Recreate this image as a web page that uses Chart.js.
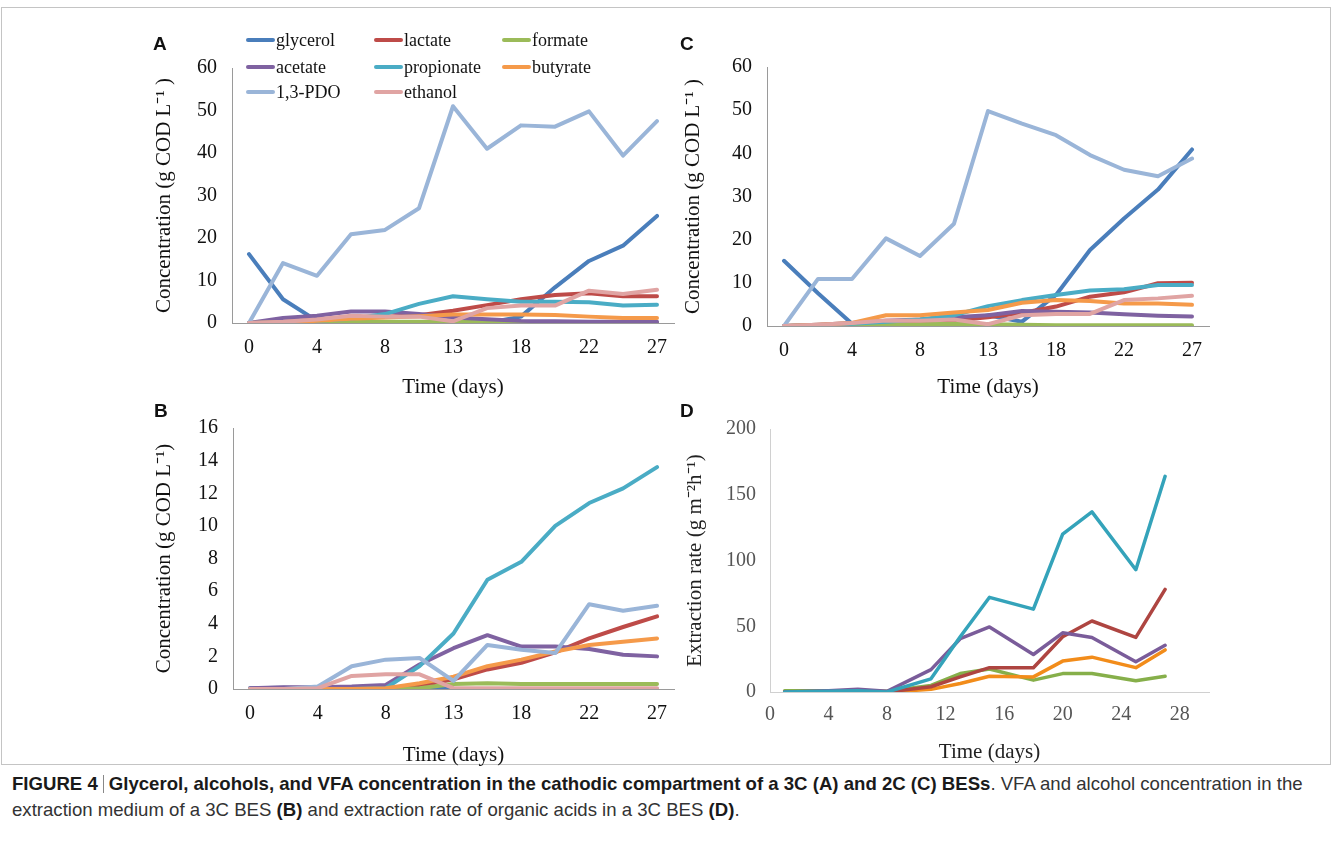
<!DOCTYPE html>
<html>
<head>
<meta charset="utf-8">
<script src="https://cdn.jsdelivr.net/npm/chart.js@4.4.1/dist/chart.umd.min.js"></script>
<style>
  body { margin: 0; background: #fff; width: 1342px; height: 851px; position: relative; overflow: hidden; }
  .frame { position: absolute; left: 1px; top: 7px; width: 1330px; height: 758px; border: 1px solid #c4c4c4; box-sizing: border-box; }
  .panel { position: absolute; }
  .letter { position: absolute; font: bold 19px "Liberation Sans", Arial, sans-serif; color: #111; }
  #legendA { position: absolute; left: 0; top: 0; font: 18px "Liberation Serif", serif; color: #111; }
  .lg { position: absolute; display: flex; align-items: center; white-space: nowrap; height: 22px; }
  .lg span.sw { display: inline-block; width: 29px; height: 4px; border-radius: 2px; margin-right: 1px; }
  .caption { position: absolute; left: 12px; top: 771px; font: 18.6px "Liberation Sans", Arial, sans-serif; color: #333; line-height: 26px; white-space: nowrap; }
  .caption b { color: #1a1a1a; }
  .bar { display: inline-block; width: 1px; height: 18px; background: #888; vertical-align: -3px; margin: 0 5px; }
</style>
</head>
<body>
<div class="frame"></div>

<canvas id="chartA" class="panel" style="left:140px;top:20px" width="560" height="380"></canvas>
<canvas id="chartC" class="panel" style="left:660px;top:20px" width="580" height="380"></canvas>
<canvas id="chartB" class="panel" style="left:140px;top:390px" width="560" height="380"></canvas>
<canvas id="chartD" class="panel" style="left:660px;top:390px" width="580" height="380"></canvas>

<div class="letter" style="left:153px;top:33px">A</div>
<div class="letter" style="left:680px;top:33px">C</div>
<div class="letter" style="left:154px;top:400px">B</div>
<div class="letter" style="left:680px;top:400px">D</div>
<div id="legendA"></div>

<div class="caption"><b>FIGURE 4</b><span class="bar"></span><b>Glycerol, alcohols, and VFA concentration in the cathodic compartment of a 3C (A) and 2C (C) BESs</b>. VFA and alcohol concentration in the<br>extraction medium of a 3C BES <b>(B)</b> and extraction rate of organic acids in a 3C BES <b>(D)</b>.</div>

<script>
// sampling days (panels A, B, C) - every other one is labelled on the axis
const days = ["0", "2", "4", "6", "8", "11", "13", "16", "18", "20", "22", "25", "27"];
// sampling days for panel D (numeric axis) and its tick labels
const daysD = [1, 4, 6, 8, 11, 13, 15, 18, 20, 22, 25, 27];
const ticksD = [0, 4, 8, 12, 16, 20, 24, 28];

const seriesNames = ["glycerol", "lactate", "formate", "acetate", "propionate", "butyrate", "1,3-PDO", "ethanol"];
const seriesColors = ["#4A7EBB", "#BE4B48", "#9BBB59", "#7F62A1", "#4AACC5", "#F59A4A", "#9AB5D8", "#E0A4A3"];

// A: cathodic compartment, 3C BES (g COD/L)
const glycerolA   = [16.2, 5.6, 0.5, 0, 0, 0, 0, 0, 1.5, 8.4, 14.6, 18.2, 25.2];
const lactateA    = [0, 0.3, 0.8, 1.3, 1.5, 1.8, 2.9, 4.2, 5.6, 6.6, 7.0, 6.3, 6.3];
const formateA    = [0, 0.1, 0.2, 0.3, 0.3, 0.3, 0.3, 0.2, 0.1, 0.1, 0.1, 0.1, 0.1];
const acetateA    = [0, 1.2, 1.7, 2.7, 2.7, 2.1, 1.3, 0.9, 0.5, 0.4, 0.3, 0.3, 0.3];
const propionateA = [0, 0.2, 0.5, 1.0, 2.1, 4.5, 6.3, 5.6, 5.0, 5.0, 4.9, 4.1, 4.3];
const butyrateA   = [0, 0.2, 0.5, 1.0, 1.3, 1.6, 2.0, 2.0, 2.0, 1.9, 1.5, 1.2, 1.2];
const pdoA        = [0, 14.1, 11.1, 20.9, 21.9, 27.0, 51.0, 41.0, 46.5, 46.2, 49.8, 39.4, 47.5];
const ethanolA    = [0, 0.3, 0.8, 1.7, 1.5, 1.5, 0.4, 3.5, 4.1, 4.1, 7.6, 6.8, 7.8];

// B: extraction medium, 3C BES (g COD/L)
const glycerolB   = [0.05, 0.08, 0.05, 0.05, 0.05, 0.05, 0, 0, 0, 0, 0, 0, 0];
const lactateB    = [0, 0, 0, 0, 0, 0.2, 0.6, 1.2, 1.6, 2.25, 3.1, 3.8, 4.45];
const formateB    = [0, 0, 0, 0, 0, 0.05, 0.3, 0.35, 0.3, 0.3, 0.3, 0.3, 0.3];
const acetateB    = [0.05, 0.1, 0.1, 0.15, 0.25, 1.5, 2.5, 3.3, 2.6, 2.6, 2.45, 2.1, 2.0];
const propionateB = [0, 0, 0, 0, 0.05, 1.4, 3.4, 6.7, 7.8, 10.0, 11.4, 12.3, 13.6];
const butyrateB   = [0, 0, 0, 0, 0.05, 0.35, 0.75, 1.4, 1.8, 2.3, 2.7, 2.9, 3.1];
const pdoB        = [0, 0, 0.15, 1.4, 1.8, 1.9, 0.5, 2.7, 2.4, 2.2, 5.2, 4.8, 5.1];
const ethanolB    = [0, 0, 0.05, 0.8, 0.9, 0.9, 0.05, 0.05, 0.05, 0.05, 0.05, 0.05, 0.05];

// C: cathodic compartment, 2C BES (g COD/L)
const glycerolC   = [15.1, 7.6, 0.5, 0.3, 0.5, 0.8, 2.5, 1.0, 7.2, 17.6, 24.9, 31.6, 40.9];
const lactateC    = [0, 0.2, 0.5, 0.8, 1.0, 1.3, 2.0, 3.0, 4.5, 6.8, 7.8, 9.9, 10.0];
const formateC    = [0, 0.1, 0.2, 0.3, 0.4, 0.5, 0.4, 0.3, 0.2, 0.2, 0.2, 0.2, 0.2];
const acetateC    = [0, 0.3, 0.7, 1.2, 1.5, 2.0, 2.5, 3.5, 3.3, 3.1, 2.7, 2.4, 2.2];
const propionateC = [0, 0.2, 0.5, 1.0, 1.5, 2.5, 4.6, 6.0, 7.2, 8.2, 8.5, 9.5, 9.5];
const butyrateC   = [0, 0.3, 0.7, 2.5, 2.5, 3.1, 3.7, 5.4, 6.0, 5.8, 5.2, 5.2, 4.9];
const pdoC        = [0, 10.9, 10.9, 20.3, 16.2, 23.7, 49.8, 46.9, 44.2, 39.6, 36.2, 34.7, 38.8];
const ethanolC    = [0, 0.3, 0.7, 1.3, 1.2, 1.5, 0.4, 2.5, 2.8, 2.8, 6.0, 6.4, 7.0];

// D: extraction rate, 3C BES (g m-2 h-1)
const namesD  = ["formate", "butyrate", "lactate", "acetate", "propionate"];
const colorsD = ["#86AF4A", "#F28C1A", "#AE4541", "#7A5C9A", "#34A3BA"];
const formateD    = [1, 1, 1, 0.5, 5, 14, 17.5, 9, 14, 14, 8.5, 12];
const butyrateD   = [0, 0, 0, 0, 2, 6.5, 12, 11.5, 23.5, 26.5, 18.5, 32];
const lactateD    = [0, 0, 1, 0, 4, 11.5, 18.5, 18.5, 42, 54, 41.5, 78];
const acetateD    = [0, 1, 2, 0.5, 17, 40.5, 49.5, 28.5, 45, 41.5, 23, 35.5];
const propionateD = [0, 0.5, 1, 0, 10, 42, 72, 63, 120, 137, 93, 164];

const serif = "'Liberation Serif', 'Times New Roman', serif";

function buildSets(values, names, colors, width) {
  return values.map(function (v, i) {
    return {
      label: names[i],
      data: v,
      borderColor: colors[i],
      backgroundColor: colors[i],
      borderWidth: width,
      pointRadius: 0,
      tension: 0,
      borderCapStyle: "round",
      borderJoinStyle: "round",
      order: -i
    };
  });
}

function fixW(w) { return function (s) { s.width = w; }; }
function fixH(h) { return function (s) { s.height = h; }; }

function concChart(id, values, yMax, yStep, box) {
  new Chart(document.getElementById(id), {
    type: "line",
    data: { labels: days, datasets: buildSets(values, seriesNames, seriesColors, 4) },
    options: {
      responsive: false,
      animation: false,
      layout: { padding: { top: box.top, right: box.right, left: 0, bottom: 0 } },
      plugins: { legend: { display: false }, tooltip: { enabled: false } },
      scales: {
        x: {
          type: "category",
          offset: true,
          afterFit: fixH(box.xh),
          grid: { display: false, drawTicks: false },
          border: { display: true, color: "#9a9a9a", width: 1 },
          ticks: {
            autoSkip: false, maxRotation: 0, padding: 13, color: "#111",
            font: { family: serif, size: 20 },
            callback: function (v, i) { return i % 2 === 0 ? this.getLabelForValue(v) : ""; }
          },
          title: { display: true, text: "Time (days)", color: "#111", font: { family: serif, size: 21 }, padding: { top: 0, bottom: box.xtPad } }
        },
        y: {
          min: 0, max: yMax,
          afterFit: fixW(box.yw),
          grid: { display: false, drawTicks: false },
          border: { display: true, color: "#9a9a9a", width: 1 },
          ticks: { stepSize: yStep, padding: 15, color: "#111", font: { family: serif, size: 20 } },
          title: { display: true, text: box.yTitle, color: "#111", font: { family: serif, size: 21 }, padding: { top: box.ytPad, bottom: 0 } }
        }
      }
    }
  });
}

concChart("chartA", [glycerolA, lactateA, formateA, acetateA, propionateA, butyrateA, pdoA, ethanolA], 60, 10,
  { top: 48, right: 26, xh: 77, yw: 92, xtPad: 0, ytPad: 12, yTitle: "Concentration (g COD L\u207B\u00B9 )" });
concChart("chartB", [glycerolB, lactateB, formateB, acetateB, propionateB, butyrateB, pdoB, ethanolB], 16, 2,
  { top: 38, right: 26, xh: 81, yw: 93, xtPad: 2, ytPad: 12, yTitle: "Concentration (g COD L\u207B\u00B9)" });
concChart("chartC", [glycerolC, lactateC, formateC, acetateC, propionateC, butyrateC, pdoC, ethanolC], 60, 10,
  { top: 47, right: 31, xh: 74, yw: 107, xtPad: 0, ytPad: 21, yTitle: "Concentration (g COD L\u207B\u00B9 )" });

// panel D: numeric time axis
const valuesD = [formateD, butyrateD, lactateD, acetateD, propionateD];
const setsD = buildSets(valuesD.map(function (v) {
  return v.map(function (y, j) { return { x: daysD[j], y: y }; });
}), namesD, colorsD, 3.5);

new Chart(document.getElementById("chartD"), {
  type: "line",
  data: { datasets: setsD },
  options: {
    responsive: false,
    animation: false,
    layout: { padding: { top: 39, right: 31, left: 0, bottom: 0 } },
    plugins: { legend: { display: false }, tooltip: { enabled: false } },
    scales: {
      x: {
        type: "linear", min: 0, max: 30,
        afterFit: fixH(78),
        afterBuildTicks: function (s) { s.ticks = ticksD.map(function (v) { return { value: v }; }); },
        grid: { display: false, drawTicks: false },
        border: { display: true, color: "#d0d0d0", width: 1 },
        ticks: { padding: 11, color: "#555", font: { family: serif, size: 20 } },
        title: { display: true, text: "Time (days)", color: "#222", font: { family: serif, size: 21 }, padding: { top: 0, bottom: 5 } }
      },
      y: {
        min: 0, max: 200,
        afterFit: fixW(110),
        grid: { display: false, drawTicks: false },
        border: { display: true, color: "#d0d0d0", width: 1 },
        ticks: { stepSize: 50, padding: 14, color: "#555", font: { family: serif, size: 20 } },
        title: { display: true, text: "Extraction rate (g m\u207B\u00B2h\u207B\u00B9)", color: "#222", font: { family: serif, size: 21 }, padding: { top: 23, bottom: 0 } }
      }
    }
  }
});

// legend of panel A, 3 columns
const legendA = document.getElementById("legendA");
const colX = [246, 374, 502];
const rowY = [29, 56, 81];
seriesNames.forEach(function (name, i) {
  const item = document.createElement("div");
  item.className = "lg";
  item.style.left = colX[i % 3] + "px";
  item.style.top = rowY[Math.floor(i / 3)] + "px";
  item.innerHTML = '<span class="sw" style="background:' + seriesColors[i] + '"></span>' + name;
  legendA.appendChild(item);
});
</script>
</body>
</html>
